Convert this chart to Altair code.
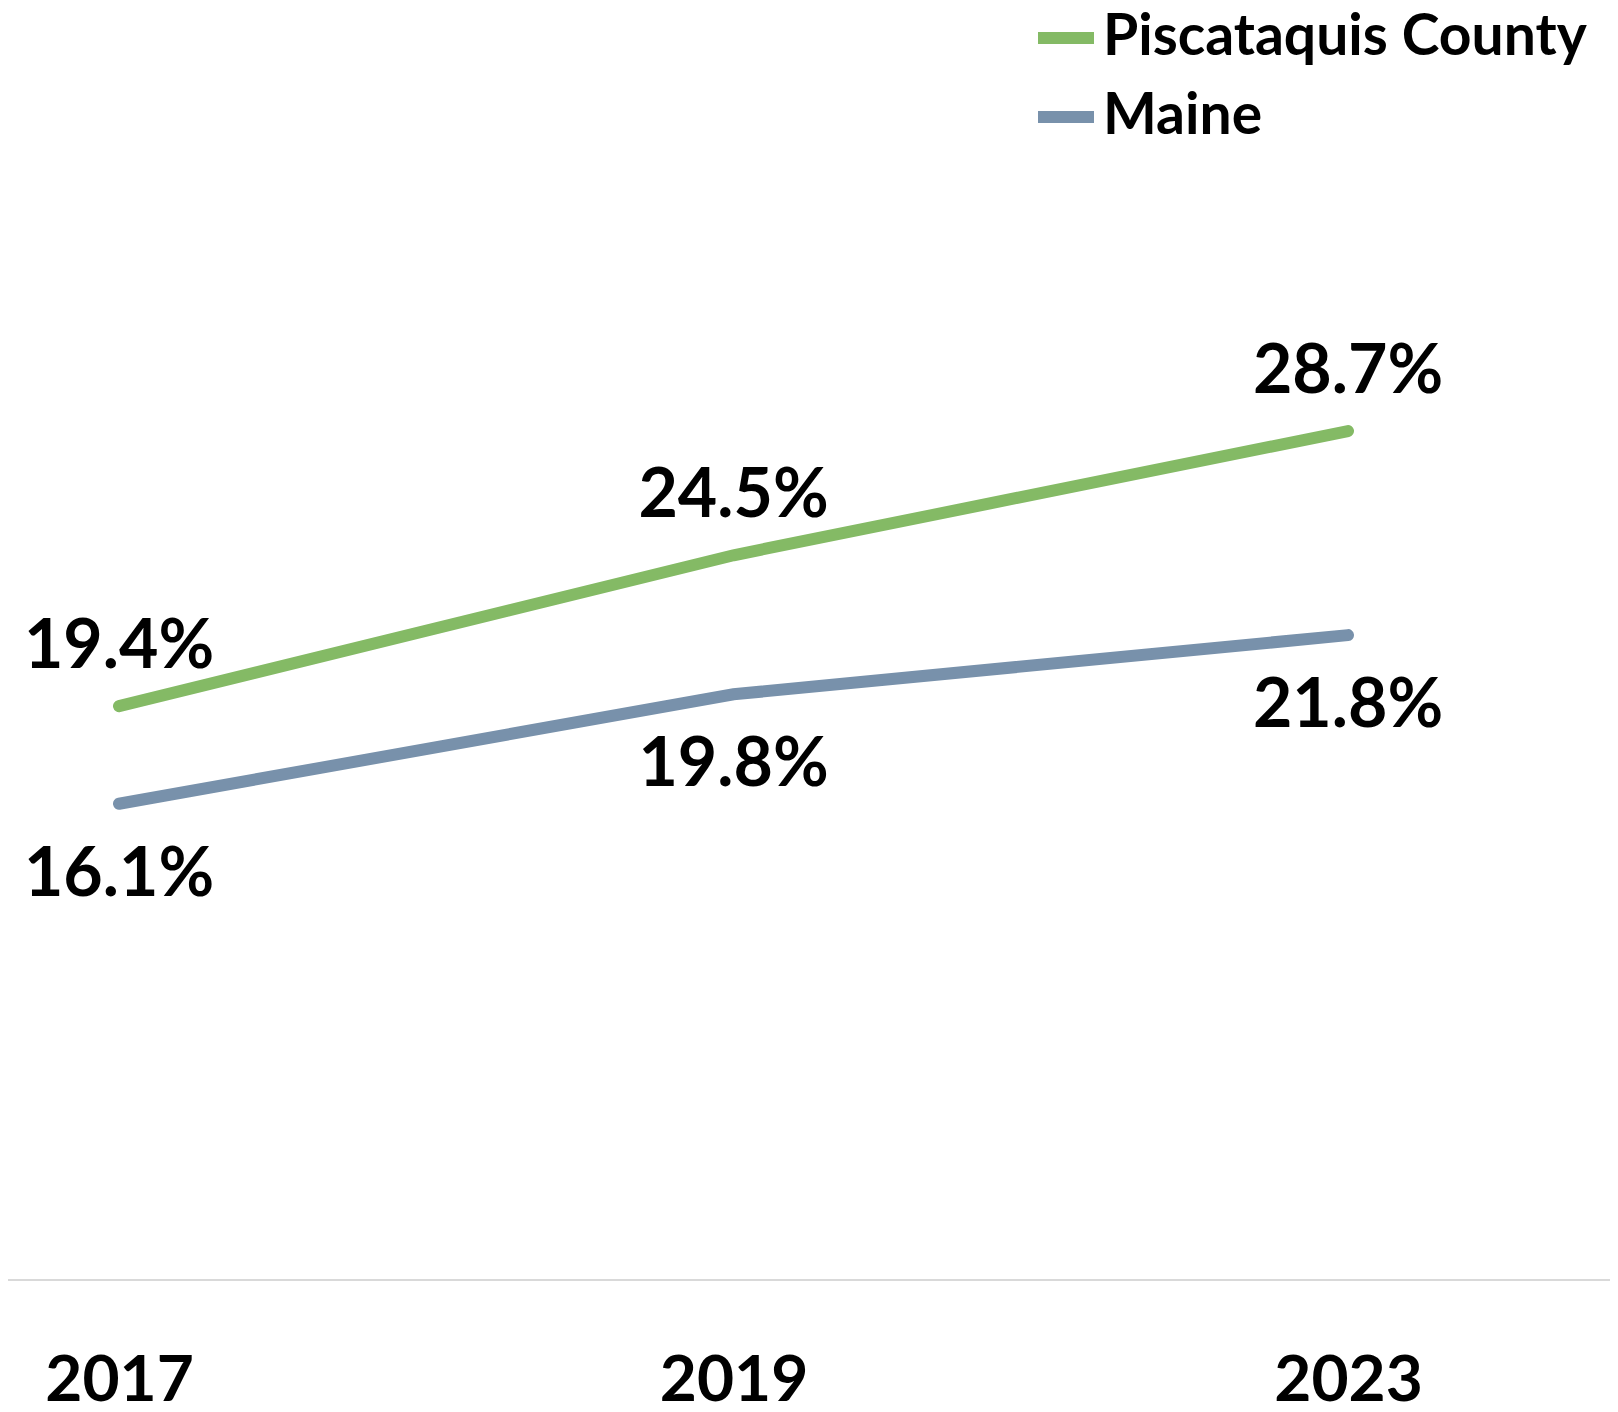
import altair as alt
import pandas as pd

years = ["2017", "2019", "2023"]
piscataquis = [0.194, 0.245, 0.287]
maine = [0.161, 0.198, 0.218]
series_names = ["Piscataquis County", "Maine"]
series_colors = ["#84BA65", "#7891AB"]

rows = []
for y, v in zip(years, piscataquis):
    rows.append({"year": y, "value": v, "series": series_names[0]})
for y, v in zip(years, maine):
    rows.append({"year": y, "value": v, "series": series_names[1]})
df = pd.DataFrame(rows)

FONT = "Lato"
W, H = 1602, 1272

x = alt.X("year:O", sort=years,
          scale=alt.Scale(type="point", range=[111, 1340], padding=0),
          axis=alt.Axis(title=None, labelAngle=0, ticks=False, grid=False,
                        domain=False,
                        labelFont=FONT, labelFontWeight="bold", labelFontSize=64,
                        labelColor="#000000", labelPadding=69))
y = alt.Y("value:Q", scale=alt.Scale(domain=[0, 0.43], nice=False, zero=True), axis=None)
color = alt.Color("series:N", sort=series_names,
                  scale=alt.Scale(domain=series_names, range=series_colors),
                  legend=alt.Legend(title=None, orient="none", legendX=1024, legendY=-4,
                                    symbolType="stroke", symbolSize=3136,
                                    symbolStrokeWidth=12, labelFont=FONT,
                                    labelFontWeight="bold", labelFontSize=57,
                                    labelColor="#000000", labelOffset=3,
                                    rowPadding=17, padding=0, labelLimit=700))

baseline = alt.Chart(pd.DataFrame({"v": [0]})).mark_rule(
    color="#d9d9d9", strokeWidth=2).encode(
    x=alt.value(0), x2=alt.value(W), y=alt.value(H))

lines = alt.Chart(df).mark_line(strokeWidth=12, strokeCap="round").encode(
    x=x, y=y, color=color, detail="series:N")

top_labels = alt.Chart(df).transform_filter(
    alt.datum.series == series_names[0]
).mark_text(font=FONT, fontWeight="bold", fontSize=68, color="#000000",
            baseline="alphabetic", dy=-38).encode(
    x=x, y=y, text=alt.Text("value:Q", format=".1%"))

bottom_labels = alt.Chart(df).transform_filter(
    alt.datum.series == series_names[1]
).mark_text(font=FONT, fontWeight="bold", fontSize=68, color="#000000",
            baseline="alphabetic", dy=92).encode(
    x=x, y=y, text=alt.Text("value:Q", format=".1%"))

chart = alt.layer(baseline, lines, top_labels, bottom_labels).properties(
    width=W, height=H,
    background="white",
    autosize=alt.AutoSizeParams(type="none"),
    padding={"left": 0, "top": 0, "right": 0, "bottom": 134},
).configure_view(strokeWidth=0, stroke="transparent")

chart.save("out.html", embed_options={"renderer": "svg", "actions": False})
